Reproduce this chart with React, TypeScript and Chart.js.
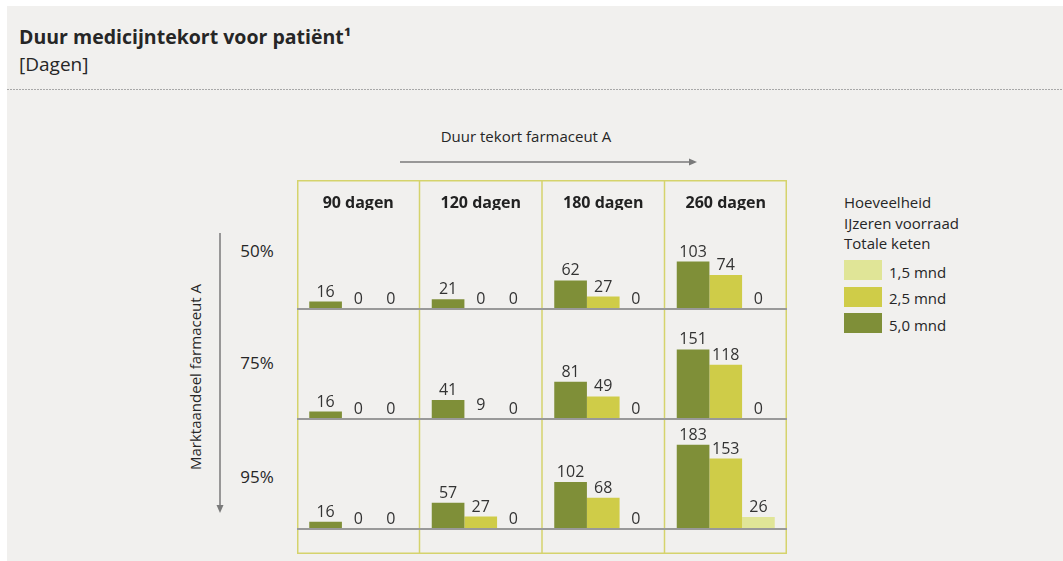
import React, { useEffect, useRef } from "react";
import { Chart, registerables } from "chart.js";

Chart.register(...registerables);

const FONT = '"Open Sans", "Noto Sans", sans-serif';

// ---- data ----
const columns = ["90 dagen", "120 dagen", "180 dagen", "260 dagen"];
const rowLabels = ["50%", "75%", "95%"];
const seriesNames = ["5,0 mnd", "2,5 mnd", "1,5 mnd"];
const seriesColors = ["#7f8f38", "#cfcc48", "#e0e597"];
const legendOrder = [2, 1, 0];

const row50_m50 = [16, 21, 62, 103];
const row50_m25 = [0, 0, 27, 74];
const row50_m15 = [0, 0, 0, 0];
const row75_m50 = [16, 41, 81, 151];
const row75_m25 = [0, 9, 49, 118];
const row75_m15 = [0, 0, 0, 0];
const row95_m50 = [16, 57, 102, 183];
const row95_m25 = [0, 27, 68, 153];
const row95_m15 = [0, 0, 0, 26];

const rowSeries = [
  [row50_m50, row50_m25, row50_m15],
  [row75_m50, row75_m25, row75_m15],
  [row95_m50, row95_m25, row95_m15],
];
// scale maximum (days) of each row panel
const rowMax = [215, 239, 239];

const framePlugin = {
  id: "frame",
  beforeDatasetsDraw(chart: any) {
    const { ctx, width, height } = chart;
    const xs = chart.scales.x;
    ctx.save();
    ctx.strokeStyle = "#d5d36c";
    ctx.lineWidth = 1.5;
    for (let i = 1; i < xs.ticks.length; i++) {
      const bx = (xs.getPixelForTick(i - 1) + xs.getPixelForTick(i)) / 2;
      ctx.beginPath();
      ctx.moveTo(bx, 0);
      ctx.lineTo(bx, height);
      ctx.stroke();
    }
    ctx.strokeRect(0.75, 0.75, width - 1.5, height - 1.5);
    ctx.restore();
  },
  afterDatasetsDraw(chart: any) {
    const { ctx, chartArea } = chart;
    ctx.save();
    ctx.strokeStyle = "#999999";
    ctx.lineWidth = 2;
    rowLabels.forEach((_, r) => {
      const y = chart.scales["y" + r].getPixelForValue(0);
      ctx.beginPath();
      ctx.moveTo(chartArea.left, y);
      ctx.lineTo(chartArea.right, y);
      ctx.stroke();
    });
    ctx.restore();
  },
};

const valueLabels = {
  id: "valueLabels",
  afterDatasetsDraw(chart: any) {
    const { ctx } = chart;
    ctx.save();
    ctx.font = `16px ${FONT}`;
    ctx.fillStyle = "#333333";
    ctx.textAlign = "center";
    ctx.textBaseline = "alphabetic";
    chart.data.datasets.forEach((ds: any, i: number) => {
      const meta = chart.getDatasetMeta(i);
      meta.data.forEach((bar: any, j: number) => {
        const { x, y } = bar.getProps(["x", "y"], true);
        ctx.fillText(String(ds.data[j]), x, y - 5);
      });
    });
    ctx.restore();
  },
};

function Txt(props: {
  x: number;
  y: number;
  size: number;
  bold?: boolean;
  center?: boolean;
  color?: string;
  children: React.ReactNode;
}) {
  const { x, y, size, bold, center, color, children } = props;
  return (
    <div
      style={{
        position: "absolute",
        left: x,
        top: y - 1.069 * size,
        fontSize: size,
        lineHeight: `${1.362 * size}px`,
        fontFamily: FONT,
        fontWeight: bold ? 700 : 400,
        color: color || "#262626",
        whiteSpace: "nowrap",
        transform: center ? "translateX(-50%)" : undefined,
      }}
    >
      {children}
    </div>
  );
}

export default function App() {
  const ref = useRef<HTMLCanvasElement | null>(null);

  useEffect(() => {
    if (!ref.current) return;
    const datasets: any[] = [];
    rowSeries.forEach((series, r) => {
      series.forEach((data, s) => {
        datasets.push({
          label: `${rowLabels[r]} ${seriesNames[s]}`,
          data,
          yAxisID: "y" + r,
          stack: "s" + s,
          backgroundColor: data.map((v, j) =>
            // the 9-day bar (75%, 120 dagen, 2,5 mnd) is not drawn in the reference
            r === 1 && s === 1 && j === 1 ? "rgba(0,0,0,0)" : seriesColors[s]
          ),
          borderWidth: 0,
          barPercentage: 1,
          categoryPercentage: 0.8,
        });
      });
    });
    const scales: any = {
      x: {
        position: "top",
        grid: { display: false },
        border: { display: false },
        ticks: {
          color: "#222222",
          padding: -11,
          font: { family: FONT, size: 16, weight: "bold" },
        },
        afterFit(s: any) {
          s.height = 30;
        },
      },
    };
    // stacked left axes are laid out last-added on top, so add bottom row first
    for (let r = rowLabels.length - 1; r >= 0; r--) {
      scales["y" + r] = {
        type: "linear",
        position: "left",
        stack: "rows",
        stackWeight: rowMax[r],
        min: 0,
        max: rowMax[r],
        display: false,
      };
    }
    const chart = new Chart(ref.current, {
      type: "bar",
      data: { labels: columns, datasets },
      options: {
        responsive: false,
        animation: false,
        layout: { padding: { top: 0, bottom: 25, left: 0, right: 0 } },
        plugins: { legend: { display: false }, tooltip: { enabled: false } },
        scales,
      },
      plugins: [framePlugin, valueLabels],
    });
    return () => chart.destroy();
  }, []);

  const rowLabelY = [257, 369, 483];

  return (
    <div style={{ position: "fixed", inset: 0, background: "#ffffff", overflow: "hidden" }}>
      <div style={{ position: "absolute", left: 7, top: 6, right: 0, bottom: 0, background: "#f1f0ee" }} />
      <Txt x={19} y={45} size={19.5} bold>
        Duur medicijntekort voor patiënt¹
      </Txt>
      <Txt x={19} y={72} size={19}>
        [Dagen]
      </Txt>
      <svg
        width={1063}
        height={561}
        style={{ position: "absolute", left: 0, top: 0 }}
      >
        <line x1={7} y1={89.5} x2={1063} y2={89.5} stroke="#a8a8a8" strokeWidth={1} strokeDasharray="2 1" />
        <line x1={400} y1={162} x2={690} y2={162} stroke="#7a7a7a" strokeWidth={1.5} />
        <polygon points="689,158.5 697,162 689,165.5" fill="#7a7a7a" />
        <line x1={220} y1={233} x2={220} y2={506} stroke="#7a7a7a" strokeWidth={1.5} />
        <polygon points="216.5,505 220,513 223.5,505" fill="#7a7a7a" />
      </svg>
      <Txt x={526} y={142} size={15} center>
        Duur tekort farmaceut A
      </Txt>
      <div
        style={{
          position: "absolute",
          left: 195,
          top: 377,
          transform: "translate(-50%, -50%) rotate(-90deg)",
          fontFamily: FONT,
          fontSize: 15,
          color: "#262626",
          whiteSpace: "nowrap",
        }}
      >
        Marktaandeel farmaceut A
      </div>
      {rowLabels.map((l, i) => (
        <Txt key={l} x={257} y={rowLabelY[i]} size={17} center>
          {l}
        </Txt>
      ))}
      <canvas
        ref={ref}
        width={490}
        height={374}
        style={{ position: "absolute", left: 297, top: 180, width: 490, height: 374 }}
      />
      <Txt x={844} y={208} size={15}>Hoeveelheid</Txt>
      <Txt x={844} y={229} size={15}>IJzeren voorraad</Txt>
      <Txt x={844} y={249} size={15}>Totale keten</Txt>
      {legendOrder.map((s, i) => (
        <React.Fragment key={s}>
          <div
            style={{
              position: "absolute",
              left: 844,
              top: 260 + i * 26.5,
              width: 38,
              height: 20,
              background: seriesColors[s],
            }}
          />
          <Txt x={889} y={278 + i * 26.5} size={15}>
            {seriesNames[s]}
          </Txt>
        </React.Fragment>
      ))}
    </div>
  );
}
